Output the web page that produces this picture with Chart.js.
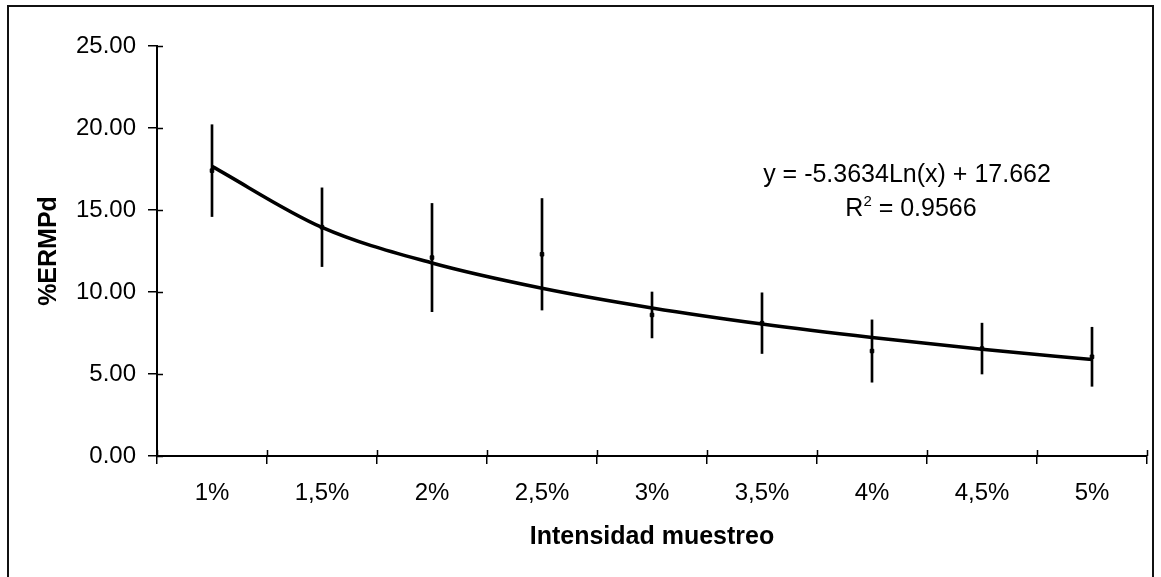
<!DOCTYPE html>
<html>
<head>
<meta charset="utf-8">
<script src="https://cdn.jsdelivr.net/npm/chart.js@4/dist/chart.umd.min.js"></script>
<style>
  html, body { margin: 0; padding: 0; background: #fff; overflow: hidden; }
  #wrap { position: relative; width: 1161px; height: 577px; }
  #frame { position: absolute; left: 7px; top: 5px; width: 1147px; height: 620px; border: 2px solid #111; box-sizing: border-box; }
  #chart { position: absolute; left: 0; top: 0; }
  .eq { position: absolute; font-family: "Liberation Sans", Arial, sans-serif; font-size: 25px; color: #000; white-space: nowrap; transform: translateX(-50%); }
  .eq sup { font-size: 15px; vertical-align: 10px; line-height: 0; }
</style>
</head>
<body>
<div id="wrap">
  <div id="frame"></div>
  <canvas id="chart" width="1161" height="577"></canvas>
  <div class="eq" style="left:907px; top:159px;">y = -5.3634Ln(x) + 17.662</div>
  <div class="eq" style="left:911px; top:193px;">R<sup>2</sup> = 0.9566</div>
</div>
<script>
// categorieën en waarden
const categories = ['1%', '1,5%', '2%', '2,5%', '3%', '3,5%', '4%', '4,5%', '5%'];
const ermpd = [17.4, 13.95, 12.1, 12.3, 8.6, 8.1, 6.4, 6.55, 6.05];
const errAmount = [2.8, 2.4, 3.3, 3.4, 1.4, 1.85, 1.9, 1.55, 1.8];
const trendValues = [17.66, 13.94, 11.77, 10.23, 9.03, 8.05, 7.23, 6.51, 5.88];
const yTicks = [0, 5, 10, 15, 20, 25];

const FONT = '"Liberation Sans", Arial, sans-serif';

// binnenste deel van de tick-streepjes (kruisende ticks zoals Excel)
const crossTicks = {
  id: 'crossTicks',
  afterDraw(chart) {
    const ctx = chart.ctx;
    const x = chart.scales.x, y = chart.scales.y;
    ctx.save();
    ctx.strokeStyle = '#000';
    ctx.lineWidth = 1.5;
    ctx.beginPath();
    yTicks.forEach(v => {
      const py = Math.round(y.getPixelForValue(v)) + 0.5;
      ctx.moveTo(y.right, py);
      ctx.lineTo(y.right + 6, py);
    });
    const w = (x.right - x.left) / categories.length;
    for (let i = 0; i <= categories.length; i++) {
      const px = Math.round(x.left + i * w) + 0.5;
      ctx.moveTo(px, x.top);
      ctx.lineTo(px, x.top - 6);
    }
    ctx.stroke();
    ctx.restore();
  }
};

const ctx = document.getElementById('chart').getContext('2d');
new Chart(ctx, {
  type: 'bar',
  data: {
    labels: categories,
    datasets: [
      {
        type: 'line',
        label: 'Tendencia',
        data: trendValues,
        borderColor: '#000',
        borderWidth: 3.5,
        pointRadius: 0,
        cubicInterpolationMode: 'monotone',
        fill: false,
        order: 1
      },
      {
        type: 'bar',
        label: 'Error',
        data: ermpd.map((v, i) => [v - errAmount[i], v + errAmount[i]]),
        backgroundColor: '#000',
        borderWidth: 0,
        barThickness: 2,
        order: 2
      },
      {
        type: 'line',
        label: '%ERMPd',
        data: ermpd,
        showLine: false,
        pointStyle: 'rect',
        pointRadius: 2.5,
        backgroundColor: '#000',
        borderColor: '#000',
        order: 0
      }
    ]
  },
  options: {
    responsive: false,
    animation: false,
    layout: { padding: { top: 46, right: 14, left: 0, bottom: 0 } },
    plugins: {
      legend: { display: false },
      tooltip: { enabled: false }
    },
    scales: {
      x: {
        offset: true,
        afterFit: s => { s.height = 121; },
        grid: { offset: true, drawOnChartArea: false, tickLength: 8, color: '#000', lineWidth: 1.5 },
        border: { display: true, color: '#000', width: 2 },
        ticks: { color: '#000', padding: 15, font: { family: FONT, size: 24 } },
        title: {
          display: true,
          text: 'Intensidad muestreo',
          color: '#000',
          font: { family: FONT, size: 25, weight: 'bold' },
          padding: { top: 0, bottom: 25 }
        }
      },
      y: {
        min: 0,
        max: 25,
        afterFit: s => { s.width = 157; },
        afterBuildTicks: s => { s.ticks = yTicks.map(v => ({ value: v })); },
        grid: { drawOnChartArea: false, tickLength: 9, color: '#000', lineWidth: 1.5 },
        border: { display: true, color: '#000', width: 2 },
        ticks: {
          color: '#000',
          padding: 12,
          font: { family: FONT, size: 24 },
          callback: v => Number(v).toFixed(2)
        },
        title: {
          display: true,
          text: '%ERMPd',
          color: '#000',
          font: { family: FONT, size: 25, weight: 'bold' },
          padding: { top: 34, bottom: 0 }
        }
      }
    }
  },
  plugins: [crossTicks]
});
</script>
</body>
</html>
